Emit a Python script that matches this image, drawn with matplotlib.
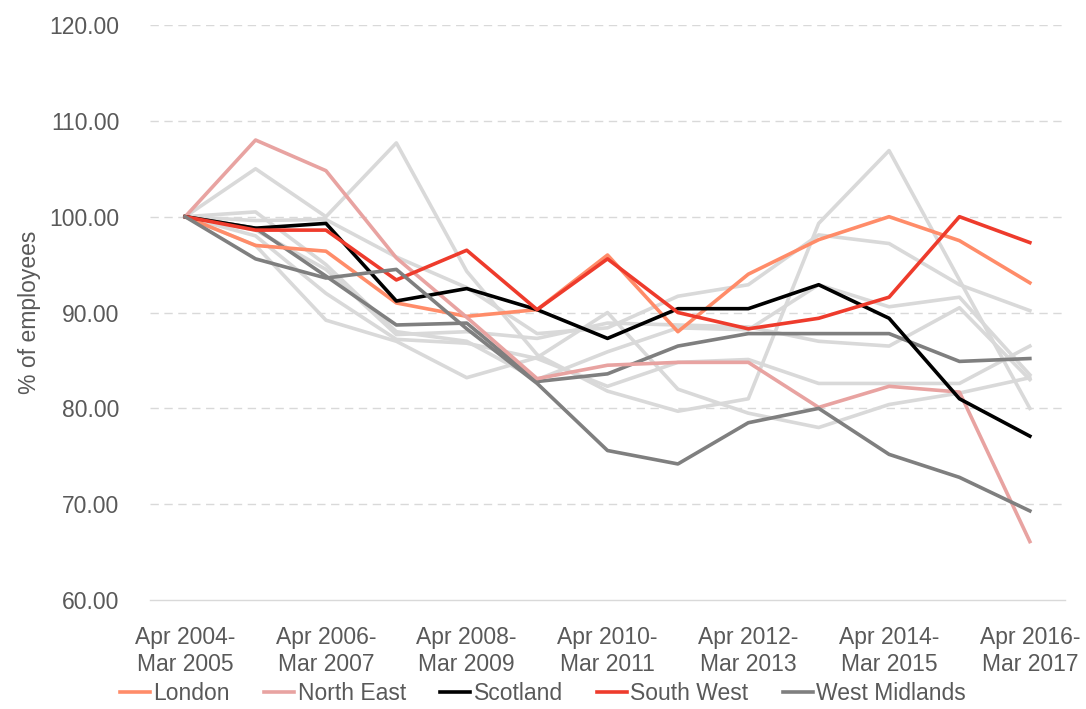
import matplotlib
matplotlib.use("Agg")
import matplotlib.pyplot as plt

periods = ["Apr 2004-\nMar 2005", "Apr 2005-\nMar 2006", "Apr 2006-\nMar 2007", "Apr 2007-\nMar 2008",
           "Apr 2008-\nMar 2009", "Apr 2009-\nMar 2010", "Apr 2010-\nMar 2011", "Apr 2011-\nMar 2012",
           "Apr 2012-\nMar 2013", "Apr 2013-\nMar 2014", "Apr 2014-\nMar 2015", "Apr 2015-\nMar 2016",
           "Apr 2016-\nMar 2017"]

# background (other regions, not in legend)
other_a = [100, 99.6, 99.7, 95.8, 92.6, 87.8, 88.4, 91.7, 92.9, 98.1, 97.2, 92.9, 90.2]
other_b = [100, 105.0, 100.0, 107.7, 94.3, 85.6, 81.8, 79.7, 81.0, 99.3, 106.9, 93.4, 80.0]
other_c = [100, 100.5, 95.0, 88.0, 87.0, 83.0, 85.9, 88.4, 88.2, 92.9, 90.6, 91.6, 83.5]
other_d = [100, 98.6, 94.5, 87.7, 88.0, 87.3, 88.9, 88.7, 88.5, 87.0, 86.5, 90.5, 83.0]
other_e = [100, 98.0, 92.0, 87.2, 86.8, 85.2, 82.3, 84.8, 85.1, 82.6, 82.6, 82.6, 86.5]
other_f = [100, 97.0, 89.2, 87.0, 83.2, 85.3, 90.0, 82.0, 79.5, 78.0, 80.4, 81.6, 83.2]
other_gray = [100, 98.8, 93.8, 88.7, 88.9, 82.8, 83.6, 86.5, 87.8, 87.8, 87.8, 84.9, 85.2]

london = [100, 97.0, 96.4, 91.0, 89.6, 90.3, 96.0, 88.0, 94.0, 97.6, 100.0, 97.5, 93.1]
north_east = [100, 108.0, 104.8, 95.7, 89.5, 83.1, 84.5, 84.8, 84.8, 80.1, 82.3, 81.7, 66.1]
scotland = [100, 98.8, 99.3, 91.2, 92.5, 90.3, 87.3, 90.4, 90.4, 92.9, 89.4, 81.0, 77.1]
south_west = [100, 98.6, 98.6, 93.4, 96.5, 90.3, 95.6, 90.0, 88.3, 89.4, 91.6, 100.0, 97.3]
west_midlands = [100, 95.6, 93.6, 94.5, 88.3, 82.6, 75.6, 74.2, 78.5, 80.0, 75.2, 72.8, 69.3]

yticks = [60, 70, 80, 90, 100, 110, 120]

plt.rcParams['font.family'] = ['Liberation Sans', 'DejaVu Sans']
fig = plt.figure(figsize=(10.86, 7.09), dpi=100)
ax = fig.add_axes([0.1381, 0.1537, 0.8426, 0.8110])

x = list(range(len(periods)))
lw = 2.6
for s in [other_a, other_b, other_c, other_d, other_e, other_f]:
    ax.plot(x, s, color="#D9D9D9", lw=lw, zorder=2)
ax.plot(x, other_gray, color="#7F7F7F", lw=lw, zorder=3)

series = [("London", london, "#FF8C69"),
          ("North East", north_east, "#E8A3A1"),
          ("Scotland", scotland, "#000000"),
          ("South West", south_west, "#EE3B2C"),
          ("West Midlands", west_midlands, "#7F7F7F")]
for name, s, c in series:
    ax.plot(x, s, color=c, lw=lw, label=name, zorder=4)

fs = 16.5
ax.set_xlim(-0.5, len(periods) - 0.5)
ax.set_ylim(60, 120)
ax.set_yticks(yticks)
ax.set_yticklabels([f"{v:.2f}" for v in yticks])
ax.set_xticks(x[::2])
ax.set_xticklabels(periods[::2])
ax.tick_params(axis='both', length=0, labelsize=fs, colors="#595959")
ax.tick_params(axis='x', pad=19)
ax.tick_params(axis='y', pad=22)
for lab in ax.get_xticklabels():
    lab.set_linespacing(1.2)

for v in yticks[1:]:
    ax.axhline(v, color="#D9D9D9", lw=1.0, ls=(0, (6, 4)), zorder=1)
for sp in ["top", "right", "left"]:
    ax.spines[sp].set_visible(False)
ax.spines["bottom"].set_color("#D9D9D9")
ax.spines["bottom"].set_linewidth(1.0)

ax.set_ylabel("% of employees", fontsize=fs, color="#595959", labelpad=6)

leg = fig.legend(loc="center", bbox_to_anchor=(0.5, 1 - 694 / 709), ncol=5, frameon=False,
                 fontsize=fs, handlelength=1.3, handletextpad=0.15, columnspacing=1.5,
                 borderpad=0.0)
for t in leg.get_texts():
    t.set_color("#595959")

fig.savefig("out.png", dpi=100)
